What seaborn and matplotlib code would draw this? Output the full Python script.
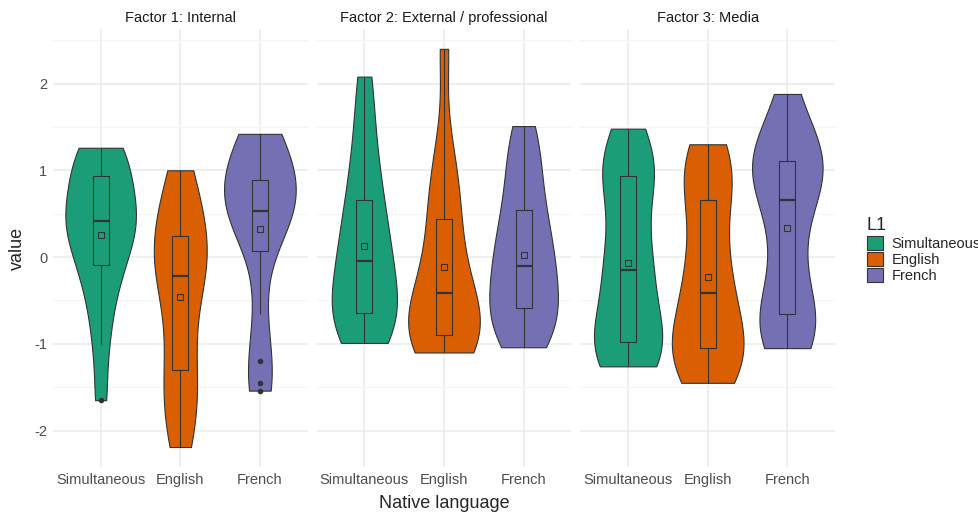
import matplotlib
matplotlib.use("Agg")
import matplotlib.pyplot as plt
from matplotlib.patches import Patch
import pandas as pd
import seaborn as sns

# facets, groups and colours
factors = ["Factor 1: Internal", "Factor 2: External / professional", "Factor 3: Media"]
languages = ["Simultaneous", "English", "French"]
colors = ["#1B9E77", "#D95F02", "#7570B3"]

# factor scores per group (estimated from the figure)
f1_simultaneous = [-1.65, -1.00, -0.60, -0.30, -0.09, 0.00, 0.20, 0.38, 0.41,
                   0.45, 0.52, 0.60, 0.93, 0.98, 1.10, 1.22, 1.26]
f1_english = [-2.19, -1.95, -1.70, -1.50, -1.30, -1.00, -0.70, -0.40, -0.22,
              -0.10, 0.00, 0.10, 0.24, 0.40, 0.60, 0.80, 1.00]
f1_french = [-1.54, -1.45, -1.20, -0.66, 0.07, 0.40, 0.50, 0.52, 0.53,
             0.70, 0.80, 0.85, 0.89, 1.15, 1.25, 1.32, 1.42]

f2_simultaneous = [-0.99, -0.90, -0.80, -0.70, -0.65, -0.50, -0.35, -0.20, -0.05,
                   0.10, 0.25, 0.45, 0.66, 0.90, 1.20, 1.60, 2.08]
f2_english = [-1.10, -1.05, -1.00, -0.95, -0.90, -0.80, -0.70, -0.55, -0.42,
              -0.30, -0.10, 0.15, 0.44, 0.65, 0.90, 1.30, 2.40]
f2_french = [-1.04, -0.95, -0.85, -0.70, -0.59, -0.50, -0.35, -0.20, -0.10,
             0.05, 0.20, 0.35, 0.54, 0.75, 1.00, 1.25, 1.51]

f3_simultaneous = [-1.26, -1.20, -1.10, -1.05, -0.98, -0.85, -0.60, -0.35, -0.15,
                   0.00, 0.15, 0.55, 0.93, 0.98, 1.05, 1.20, 1.48]
f3_english = [-1.45, -1.35, -1.25, -1.15, -1.05, -0.95, -0.80, -0.60, -0.42,
              -0.20, 0.00, 0.30, 0.66, 0.85, 1.00, 1.15, 1.30]
f3_french = [-1.05, -0.95, -0.85, -0.75, -0.66, -0.40, -0.05, 0.25, 0.66,
             0.75, 0.90, 1.00, 1.11, 1.20, 1.28, 1.45, 1.88]

scores = {
    factors[0]: [f1_simultaneous, f1_english, f1_french],
    factors[1]: [f2_simultaneous, f2_english, f2_french],
    factors[2]: [f3_simultaneous, f3_english, f3_french],
}

rows = []
for factor in factors:
    for lang, vals in zip(languages, scores[factor]):
        for v in vals:
            rows.append({"factor": factor, "L1": lang, "value": v})
df = pd.DataFrame(rows)

sns.set_theme(style="white")
plt.rcParams["font.family"] = ["Liberation Sans", "DejaVu Sans"]
plt.rcParams["axes.unicode_minus"] = False

fig, axes = plt.subplots(1, 3, figsize=(9.79, 5.16), dpi=100, sharey=True)
fig.subplots_adjust(left=0.054, right=0.853, top=0.944, bottom=0.095, wspace=0.035)

for ax, factor in zip(axes, factors):
    sub = df[df["factor"] == factor]
    sns.violinplot(data=sub, x="L1", y="value", hue="L1", order=languages,
                   hue_order=languages, palette=colors, cut=0, inner=None,
                   density_norm="area", common_norm=True, width=0.9,
                   bw_adjust=0.8, linewidth=0.8, linecolor="#333333",
                   saturation=1, legend=False, ax=ax)
    sns.boxplot(data=sub, x="L1", y="value", order=languages, width=0.2,
                fill=False, color="#333333", linewidth=0.8,
                medianprops={"linewidth": 1.6},
                capprops={"visible": False},
                flierprops={"marker": "o", "markersize": 3,
                            "markerfacecolor": "#333333",
                            "markeredgecolor": "#333333"},
                ax=ax)
    sns.pointplot(data=sub, x="L1", y="value", order=languages,
                  estimator="mean", errorbar=None, linestyle="none",
                  marker="s", color="#333333", markersize=4,
                  markerfacecolor="none", markeredgewidth=0.8, ax=ax)

    ax.set_title(factor, fontsize=10.5, color="#1A1A1A", pad=5)
    ax.set_xlabel("")
    ax.set_ylabel("")
    ax.set_xlim(-0.6, 2.6)
    ax.set_ylim(-2.42, 2.63)
    ax.set_yticks([-2, -1, 0, 1, 2])
    ax.set_yticks([-1.5, -0.5, 0.5, 1.5, 2.5], minor=True)
    ax.grid(which="major", color="#EBEBEB", linewidth=1.1)
    ax.grid(which="minor", axis="y", color="#F4F4F4", linewidth=0.8)
    ax.set_axisbelow(True)
    ax.tick_params(axis="both", which="both", length=0, pad=4,
                   labelsize=10.5, labelcolor="#4D4D4D")
    for s in ax.spines.values():
        s.set_visible(False)

fig.text(0.454, 0.025, "Native language", ha="center", va="center", fontsize=13)
fig.text(0.018, 0.519, "value", ha="center", va="center", rotation=90, fontsize=13)

handles = [Patch(facecolor=c, edgecolor="#333333", linewidth=0.8) for c in colors]
fig.legend(handles, languages, title="L1", loc="center left",
           bbox_to_anchor=(0.872, 0.515), frameon=False, fontsize=10.5,
           title_fontsize=13, handlelength=1.1, handleheight=1.1,
           labelspacing=0.1, handletextpad=0.6, alignment="left")

fig.savefig("out.png", dpi=100)
